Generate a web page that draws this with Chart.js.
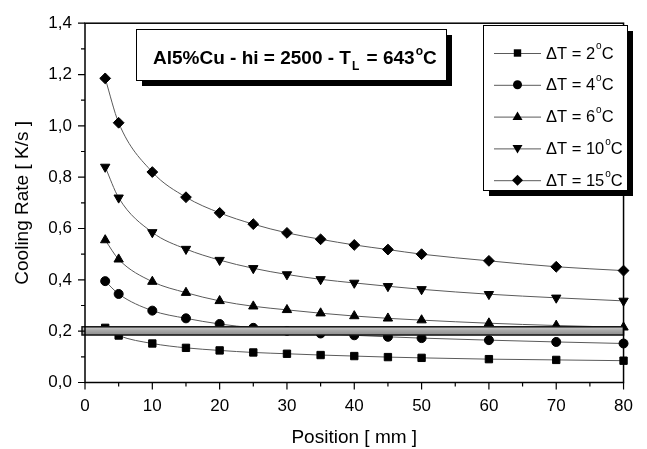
<!DOCTYPE html>
<html>
<head>
<meta charset="utf-8">
<script src="https://cdn.jsdelivr.net/npm/chart.js"></script>
<style>
  html, body { margin: 0; padding: 0; background: #fff; }
  #wrap { width: 647px; height: 449px; }
</style>
</head>
<body>
<div id="wrap"><canvas id="chart" width="647" height="449"></canvas></div>
<script>
// Position [mm] and cooling rate [K/s] per undercooling
const positions = [3, 5, 10, 15, 20, 25, 30, 35, 40, 45, 50, 60, 70, 80];
const dt2 = [0.213, 0.183, 0.152, 0.135, 0.125, 0.117, 0.112, 0.107, 0.103, 0.099, 0.096, 0.091, 0.088, 0.085];
const dt4 = [0.395, 0.345, 0.28, 0.25, 0.228, 0.213, 0.201, 0.191, 0.184, 0.178, 0.173, 0.165, 0.158, 0.152];
const dt6 = [0.555, 0.48, 0.393, 0.35, 0.318, 0.297, 0.283, 0.27, 0.259, 0.25, 0.243, 0.231, 0.222, 0.215];
const dt10 = [0.84, 0.72, 0.585, 0.52, 0.477, 0.445, 0.421, 0.402, 0.388, 0.375, 0.363, 0.344, 0.33, 0.318];
const dt15 = [1.185, 1.012, 0.82, 0.722, 0.661, 0.617, 0.583, 0.558, 0.536, 0.518, 0.5, 0.474, 0.451, 0.436];

const seriesLabels = ["ΔT = 2°C", "ΔT = 4°C", "ΔT = 6°C", "ΔT = 10°C", "ΔT = 15°C"];
const markers = ["rect", "circle", "triangle", "triangleDown", "rectRot"];

// horizontal gray band around 0,2 K/s
const bandLow = 0.185;
const bandHigh = 0.217;

const FONT = "'Liberation Sans', Arial, Helvetica, sans-serif";

function makeSet(label, values, marker) {
  const down = marker === "triangleDown";
  let radius = 4.5;
  if (marker === "rect") radius = 5.2;
  if (marker === "rectRot") radius = 5.4;
  if (marker === "triangle" || down) radius = 5.4;
  return {
    label,
    data: positions.map((x, i) => ({ x, y: values[i] })),
    showLine: true,
    borderColor: "#5a5a5a",
    borderWidth: 1,
    cubicInterpolationMode: "monotone",
    pointStyle: down ? "triangle" : marker,
    rotation: down ? 180 : 0,
    pointRadius: radius,
    pointBackgroundColor: "#000",
    pointBorderColor: "#000",
    pointBorderWidth: 1,
    clip: false,
  };
}

const allValues = [dt2, dt4, dt6, dt10, dt15];
const datasets = allValues.map((v, i) => makeSet(seriesLabels[i], v, markers[i]));

// text with a raised small "o" for the degree sign
function drawDegreeText(ctx, text, x, y, size, bold) {
  const w = bold ? "bold " : "";
  const parts = text.split("°");
  ctx.font = w + size + "px " + FONT;
  ctx.fillText(parts[0], x, y);
  x += ctx.measureText(parts[0]).width;
  if (parts.length > 1) {
    ctx.font = w + Math.round(size * 0.62) + "px " + FONT;
    ctx.fillText("o", x + 1, y - size * 0.45);
    x += ctx.measureText("o").width + 1;
    ctx.font = w + size + "px " + FONT;
    ctx.fillText(parts[1], x, y);
  }
}

function drawMarker(ctx, style, x, y) {
  ctx.beginPath();
  if (style === "rect") {
    ctx.rect(x - 3.7, y - 3.7, 7.4, 7.4);
  } else if (style === "circle") {
    ctx.arc(x, y, 4.5, 0, Math.PI * 2);
  } else if (style === "triangle") {
    ctx.moveTo(x, y - 5); ctx.lineTo(x + 5, y + 3.5); ctx.lineTo(x - 5, y + 3.5);
  } else if (style === "triangleDown") {
    ctx.moveTo(x, y + 5); ctx.lineTo(x + 5, y - 3.5); ctx.lineTo(x - 5, y - 3.5);
  } else {
    ctx.moveTo(x, y - 5.5); ctx.lineTo(x + 5.5, y); ctx.lineTo(x, y + 5.5); ctx.lineTo(x - 5.5, y);
  }
  ctx.closePath();
  ctx.fill();
}

function shadowBox(ctx, x, y, w, h) {
  ctx.fillStyle = "#000";
  ctx.fillRect(x + 6, y + 6, w, h);
  ctx.fillStyle = "#fff";
  ctx.fillRect(x, y, w, h);
  ctx.strokeStyle = "#000";
  ctx.lineWidth = 1;
  ctx.strokeRect(x + 0.5, y + 0.5, w, h);
}

const decorPlugin = {
  id: "decor",
  afterDatasetsDraw(chart) {
    const { ctx, chartArea, scales } = chart;
    const xs = scales.x, ys = scales.y;

    // gray band
    const yTop = ys.getPixelForValue(bandHigh);
    const yBot = ys.getPixelForValue(bandLow);
    const xl = chartArea.left - 3, xr = xs.getPixelForValue(80);
    const grad = ctx.createLinearGradient(0, yTop, 0, yBot);
    grad.addColorStop(0, "#d0d0d0");
    grad.addColorStop(0.45, "#a8a8a8");
    grad.addColorStop(1, "#8c8c8c");
    ctx.save();
    ctx.fillStyle = grad;
    ctx.fillRect(xl, yTop, xr - xl, yBot - yTop);
    ctx.strokeStyle = "#111";
    ctx.lineWidth = 1.5;
    ctx.strokeRect(xl, yTop, xr - xl, yBot - yTop);

    // frame
    ctx.lineWidth = 1.5;
    ctx.strokeStyle = "#000";
    ctx.strokeRect(chartArea.left, chartArea.top, chartArea.right - chartArea.left, chartArea.bottom - chartArea.top);

    // ticks (major / minor), outward
    ctx.lineWidth = 1.2;
    ctx.beginPath();
    ys.ticks.forEach(t => {
      const major = Math.round(t.value * 10) % 2 === 0;
      const p = ys.getPixelForValue(t.value);
      ctx.moveTo(chartArea.left, p);
      ctx.lineTo(chartArea.left - (major ? 7 : 4), p);
    });
    xs.ticks.forEach(t => {
      const major = Math.round(t.value) % 10 === 0;
      const p = xs.getPixelForValue(t.value);
      ctx.moveTo(p, chartArea.bottom);
      ctx.lineTo(p, chartArea.bottom + (major ? 7 : 4));
    });
    ctx.stroke();

    // title box
    shadowBox(ctx, 136, 29, 310, 51);
    ctx.fillStyle = "#000";
    ctx.textBaseline = "alphabetic";
    ctx.textAlign = "left";
    let tx = 153, ty = 64;
    ctx.font = "bold 19px " + FONT;
    const t1 = "Al5%Cu - hi = 2500 - T";
    ctx.fillText(t1, tx, ty);
    tx += ctx.measureText(t1).width;
    ctx.font = "bold 12px " + FONT;
    ctx.fillText("L", tx + 1, ty + 6);
    tx += ctx.measureText("L").width + 3;
    drawDegreeText(ctx, " = 643°C", tx, ty, 19, true);

    // legend box
    shadowBox(ctx, 483, 25, 144, 165);
    chart.data.datasets.forEach((ds, i) => {
      const cy = 53 + i * 31.8;
      ctx.strokeStyle = "#5a5a5a";
      ctx.lineWidth = 1;
      ctx.beginPath();
      ctx.moveTo(494, cy + 0.5);
      ctx.lineTo(541, cy + 0.5);
      ctx.stroke();
      ctx.fillStyle = "#000";
      drawMarker(ctx, markers[i], 517.5, cy);
      ctx.textBaseline = "middle";
      drawDegreeText(ctx, ds.label, 546, cy + 1, 16.5, false);
      ctx.textBaseline = "alphabetic";
    });
    ctx.restore();
  }
};

new Chart(document.getElementById("chart"), {
  type: "scatter",
  data: { datasets },
  options: {
    responsive: false,
    animation: false,
    events: [],
    layout: { padding: { left: 0, right: 9, top: 15, bottom: 0 }, autoPadding: false },
    plugins: { legend: { display: false }, tooltip: { enabled: false } },
    scales: {
      x: {
        type: "linear",
        min: 0,
        max: 80,
        afterFit: s => { s.height = 66.5; },
        grid: { display: true, drawOnChartArea: false, drawTicks: false, color: "rgba(0,0,0,0)" },
        border: { display: false },
        ticks: {
          stepSize: 5,
          autoSkip: false,
          maxRotation: 0,
          padding: 14,
          color: "#000",
          font: { family: FONT, size: 17 },
          callback: v => (Math.round(v) % 10 === 0 ? String(v) : "")
        },
        title: {
          display: true,
          text: "Position [ mm ]",
          color: "#000",
          font: { family: FONT, size: 19 },
          padding: { top: 0, bottom: 0 }
        }
      },
      y: {
        type: "linear",
        min: 0,
        max: 1.4,
        afterFit: s => { s.width = 85; },
        grid: { display: true, drawOnChartArea: false, drawTicks: false, color: "rgba(0,0,0,0)" },
        border: { display: false },
        ticks: {
          stepSize: 0.1,
          autoSkip: false,
          padding: 13,
          color: "#000",
          font: { family: FONT, size: 17 },
          callback: v => (Math.round(v * 10) % 2 === 0 ? v.toFixed(1).replace(".", ",") : "")
        },
        title: {
          display: true,
          text: "Cooling Rate [ K/s ]",
          color: "#000",
          font: { family: FONT, size: 19 },
          padding: { top: 11, bottom: 0 }
        }
      }
    }
  },
  plugins: [decorPlugin]
});
</script>
</body>
</html>
